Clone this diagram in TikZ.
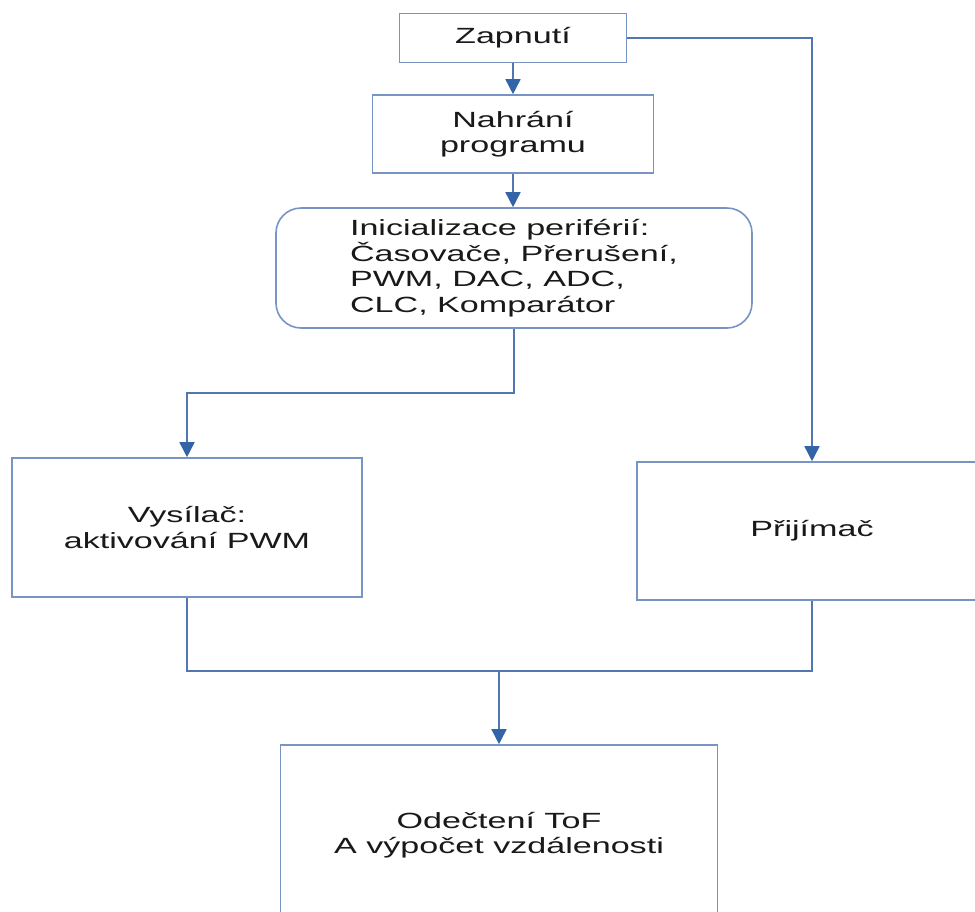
\documentclass[tikz,border=0pt]{standalone}
\usepackage{fontspec}
\setmainfont{Liberation Sans}[FakeStretch=1.55]
\usetikzlibrary{arrows.meta}
\definecolor{boxc}{RGB}{120,148,196}
\definecolor{linec}{RGB}{80,118,180}
\definecolor{headc}{RGB}{52,100,168}
\tikzset{
  blk/.style={draw=boxc, line width=1.6pt, fill=white, inner sep=0pt, align=center,
    font=\fontsize{22}{25.5}\selectfont, text=black!90},
  conn/.style={draw=linec, line width=1.6pt},
  arr/.style={conn, -{Triangle[width=15pt,length=15pt,fill=headc,color=headc]}}
}
\begin{document}
\begin{tikzpicture}[x=1pt,y=-1pt]
\useasboundingbox (0,0) rectangle (975,911);
\begin{scope}
\clip (0,0) rectangle (975,911);
\node[blk, minimum width=227pt, minimum height=49pt] (zap) at (513,38) {Zapnutí};
\node[blk, minimum width=281pt, minimum height=78pt] (nah) at (513,134) {Nahrání\\programu};
\node[blk, minimum width=476pt, minimum height=120pt, rounded corners=25pt, align=left] (init) at (514,268) {Inicializace periférií:\\Časovače, Přerušení,\\PWM, DAC, ADC,\\CLC, Komparátor};
\node[blk, minimum width=350pt, minimum height=139pt] (vys) at (187,527.5) {Vysílač:\\aktivování PWM};
\node[blk, minimum width=350pt, minimum height=138pt] (prij) at (812,531) {Přijímač};
\node[blk, minimum width=437pt, minimum height=180pt] (odec) at (499,835) {Odečtení ToF\\A výpočet vzdálenosti};
\coordinate (j1) at (514,393);
\coordinate (j2) at (499,671);
\draw[arr] (zap.south) -- (nah.north);
\draw[arr] (nah.south) -- (init.north -| nah.south);
\draw[arr] (init.south) -- (j1) -| (vys.north);
\draw[arr] (zap.east) -| (prij.north);
\draw[conn] (vys.south) |- (j2);
\draw[conn] (prij.south) |- (j2);
\draw[arr] (j2) -- (odec.north);
\end{scope}
\end{tikzpicture}
\end{document}
